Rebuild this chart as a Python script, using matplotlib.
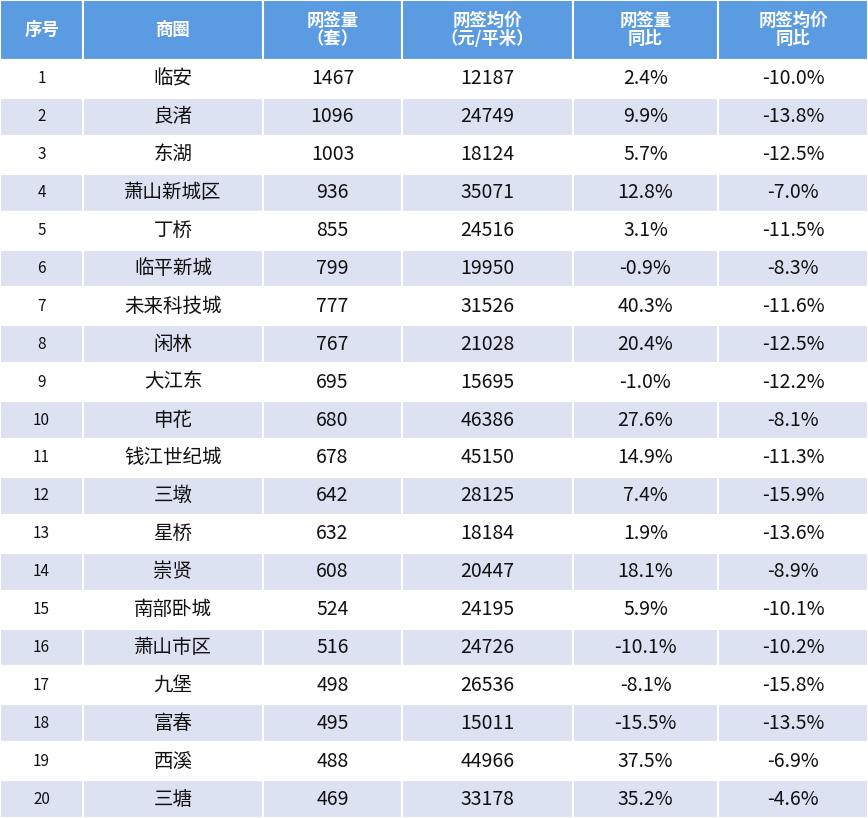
import matplotlib
matplotlib.use("Agg")
import matplotlib.pyplot as plt
from matplotlib.patches import Rectangle
from matplotlib import font_manager as fm

cjk = [f for f in fm.fontManager.ttflist if "CJK" in f.name]
pref = [f for f in cjk if "SC" in f.name] or cjk
fams = [pref[0].name] if pref else []
plt.rcParams["font.family"] = fams + ["DejaVu Sans"]

headers = ["序号", "商圈", "网签量\n（套）", "网签均价\n（元/平米）", "网签量\n同比", "网签均价\n同比"]
ranks = list(range(1, 21))
areas = ["临安", "良渚", "东湖", "萧山新城区", "丁桥", "临平新城", "未来科技城", "闲林", "大江东", "申花",
         "钱江世纪城", "三墩", "星桥", "崇贤", "南部卧城", "萧山市区", "九堡", "富春", "西溪", "三塘"]
volumes = [1467, 1096, 1003, 936, 855, 799, 777, 767, 695, 680, 678, 642, 632, 608, 524, 516, 498, 495, 488, 469]
prices = [12187, 24749, 18124, 35071, 24516, 19950, 31526, 21028, 15695, 46386,
          45150, 28125, 18184, 20447, 24195, 24726, 26536, 15011, 44966, 33178]
vol_yoy = ["2.4%", "9.9%", "5.7%", "12.8%", "3.1%", "-0.9%", "40.3%", "20.4%", "-1.0%", "27.6%",
           "14.9%", "7.4%", "1.9%", "18.1%", "5.9%", "-10.1%", "-8.1%", "-15.5%", "37.5%", "35.2%"]
price_yoy = ["-10.0%", "-13.8%", "-12.5%", "-7.0%", "-11.5%", "-8.3%", "-11.6%", "-12.5%", "-12.2%", "-8.1%",
             "-11.3%", "-15.9%", "-13.6%", "-8.9%", "-10.1%", "-10.2%", "-15.8%", "-13.5%", "-6.9%", "-4.6%"]

W, H = 868, 818
col_w = [83, 180, 139, 171, 145, 150]
header_h = 60
row_h = (H - header_h) / len(ranks)

fig = plt.figure(figsize=(W / 100, H / 100), dpi=100)
ax = fig.add_axes([0, 0, 1, 1])
ax.set_xlim(0, W)
ax.set_ylim(H, 0)
ax.axis("off")

xs = [sum(col_w[:i]) for i in range(len(col_w))]
for x, w, t in zip(xs, col_w, headers):
    ax.add_patch(Rectangle((x, 0), w, header_h, facecolor="#5B9BE1", edgecolor="white", lw=1.5))
    ax.text(x + w / 2, header_h / 2, t, ha="center", va="center", color="white",
            fontsize=12.5, fontweight="bold", linespacing=1.05)

for i in range(len(ranks)):
    y = header_h + i * row_h
    vals = [str(ranks[i]), areas[i], str(volumes[i]), str(prices[i]), vol_yoy[i], price_yoy[i]]
    bg = "white" if i % 2 == 0 else "#DCE2F2"
    for j, (x, w, t) in enumerate(zip(xs, col_w, vals)):
        ax.add_patch(Rectangle((x, y), w, row_h, facecolor=bg, edgecolor="white", lw=1.5))
        ax.text(x + w / 2, y + row_h / 2, t, ha="center", va="center", color="#111111",
                fontsize=11 if j == 0 else 14)

fig.savefig("out.png", dpi=100)
